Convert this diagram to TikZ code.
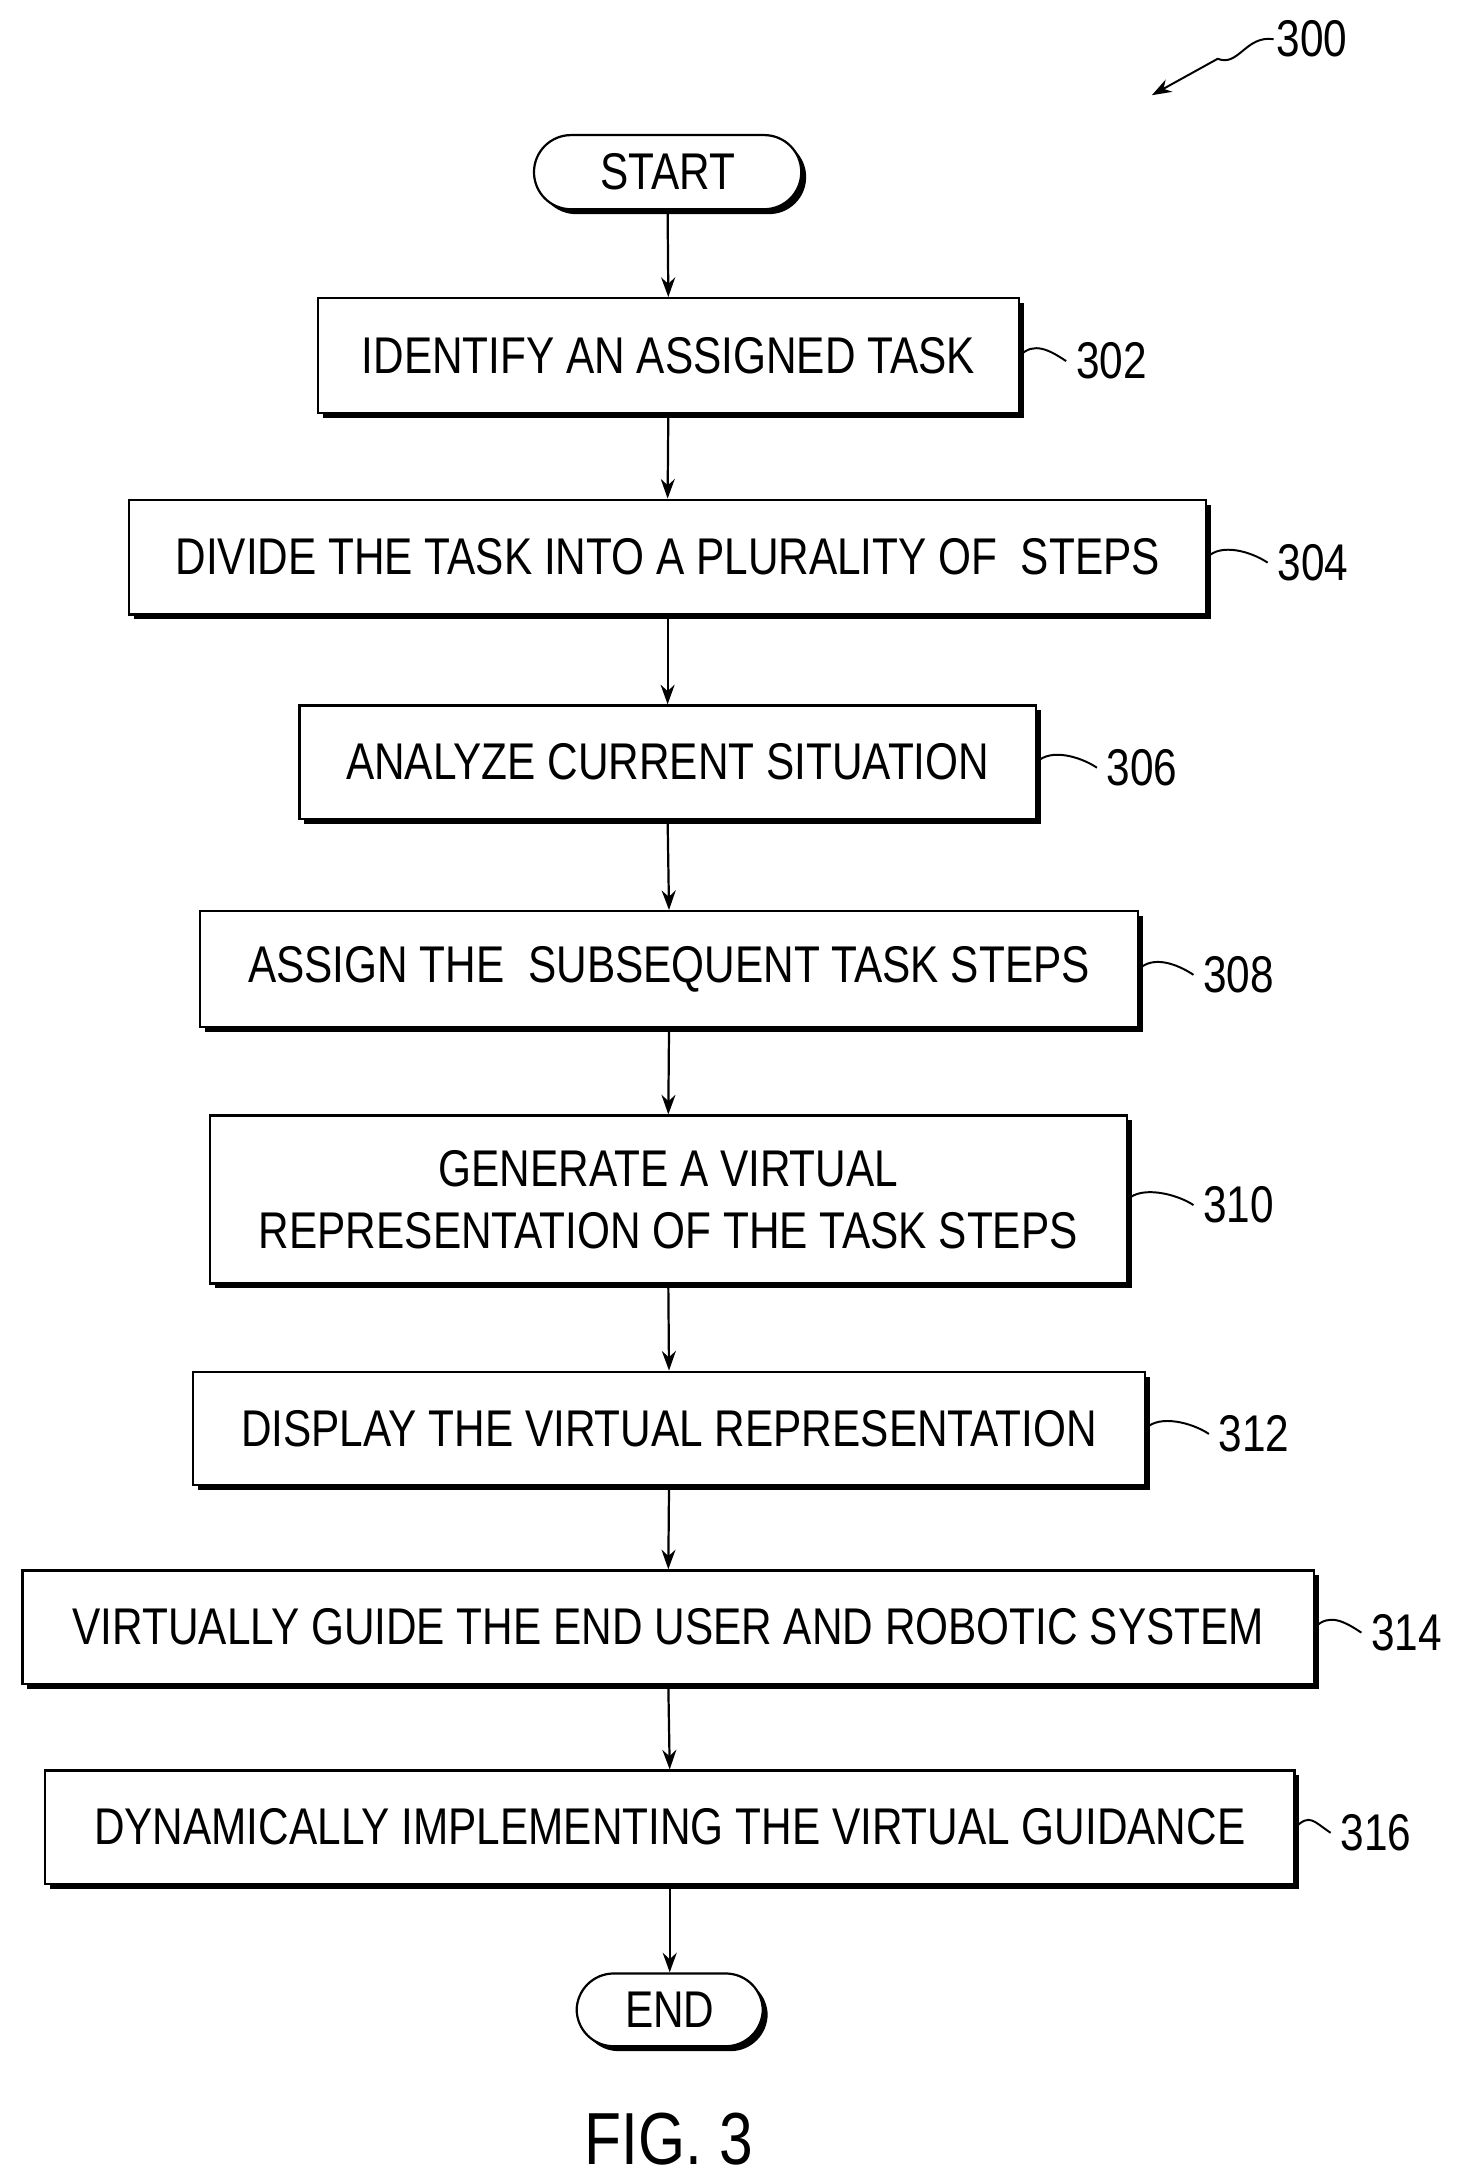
\documentclass[tikz,border=0pt]{standalone}
\usepackage{fontspec}
\setmainfont[FakeStretch=0.82]{Liberation Sans}
\usetikzlibrary{shadows,arrows.meta}
\tikzset{
  stepbox/.style={draw, fill=white, line width=0.9pt, inner sep=0pt, align=center,
    font=\fontsize{21}{25}\selectfont,
    drop shadow={shadow xshift=0.07cm, shadow yshift=-0.07cm, fill=black, opacity=1}},
  term/.style={stepbox, rounded corners=0.53cm},
  ref/.style={font=\fontsize{21}{25}\selectfont, anchor=west, inner sep=1pt},
  flow/.style={line width=0.9pt, -{Stealth[length=0.28cm,width=0.2cm]}},
  wave/.style={line width=0.8pt}
}
\begin{document}
\begin{tikzpicture}[x=0.02cm,y=-0.02cm]
  \useasboundingbox (0,0) rectangle (1050,1559);
  % terminals and steps
  \node[term, minimum width=3.82cm, minimum height=1.06cm] (start) at (477,123) {START};
  \node[stepbox, minimum width=10.02cm, minimum height=1.64cm] (s302) at (477.5,254) {IDENTIFY AN ASSIGNED TASK};
  \node[stepbox, minimum width=15.4cm, minimum height=1.64cm] (s304) at (477,398) {DIVIDE THE TASK INTO A PLURALITY OF\ \ STEPS};
  \node[stepbox, minimum width=10.52cm, minimum height=1.62cm] (s306) at (477,544.5) {ANALYZE CURRENT SITUATION};
  \node[stepbox, minimum width=13.4cm, minimum height=1.66cm] (s308) at (478,692.5) {ASSIGN THE\ \ SUBSEQUENT TASK STEPS};
  \node[stepbox, minimum width=13.1cm, minimum height=2.4cm] (s310) at (477.5,857) {GENERATE A VIRTUAL\\REPRESENTATION OF THE TASK STEPS};
  \node[stepbox, minimum width=13.6cm, minimum height=1.62cm] (s312) at (478,1020.5) {DISPLAY THE VIRTUAL REPRESENTATION};
  \node[stepbox, minimum width=18.46cm, minimum height=1.62cm] (s314) at (477.5,1162.5) {VIRTUALLY GUIDE THE END USER AND ROBOTIC SYSTEM};
  \node[stepbox, minimum width=17.86cm, minimum height=1.62cm] (s316) at (478.5,1305.5) {DYNAMICALLY IMPLEMENTING THE VIRTUAL GUIDANCE};
  \node[term, minimum width=2.66cm, minimum height=1.04cm] (end) at (478.5,1436) {END};
  % flow
  \foreach \a/\b in {start/s302, s302/s304, s304/s306, s306/s308, s308/s310,
                     s310/s312, s312/s314, s314/s316, s316/end}
    \draw[flow] (\a.south) -- (\b.north);
  % reference numerals
  \foreach \s/\n/\gap in {s302/302/38, s304/304/48, s306/306/48, s308/308/44,
                         s310/310/52, s312/312/50, s314/314/38, s316/316/30}{
    \node[ref] (l\n) at ([xshift=\gap*0.02cm, yshift=-0.08cm]\s.east) {\n};
    \draw[wave] (\s.east) .. controls +(10,-10) and +(-12,-8) .. ([xshift=-0.1cm]l\n.west);
  }
  \node[ref] (l300) at (910,28) {300};
  \coordinate (t300) at (823,68);
  \draw[wave, -{Stealth[length=0.28cm,width=0.2cm]}] (l300.west) .. controls (890,25) and (885,48) .. (870,42) -- (t300);
  \node[font=\fontsize{30}{36}\selectfont] (fig) at (478,1528) {FIG. 3};
\end{tikzpicture}
\end{document}
